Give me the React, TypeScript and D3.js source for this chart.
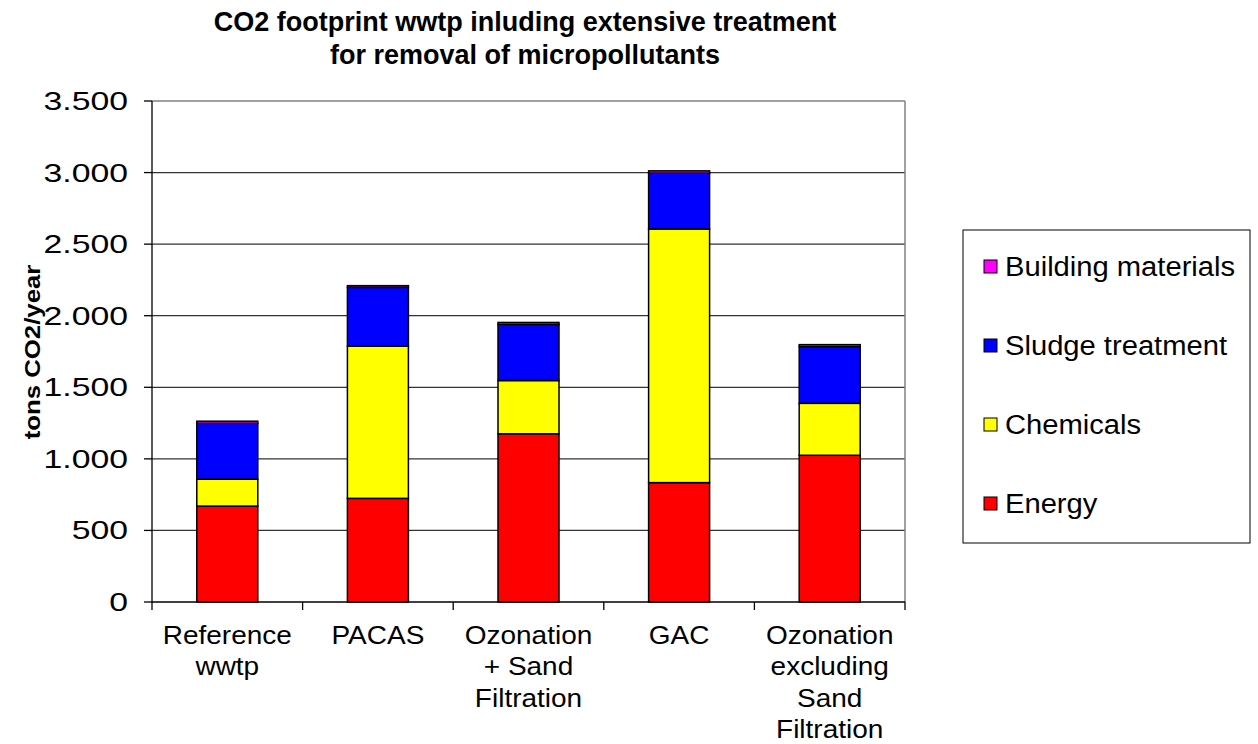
import React from "react";
import * as d3 from "d3";

const categories = [
  ["Reference", "wwtp"],
  ["PACAS"],
  ["Ozonation", "+ Sand", "Filtration"],
  ["GAC"],
  ["Ozonation", "excluding", "Sand", "Filtration"],
];
const categoryKeys = ["Reference wwtp", "PACAS", "Ozonation + Sand Filtration", "GAC", "Ozonation excluding Sand Filtration"];
const energy = [670, 724, 1175, 834, 1025];
const chemicals = [188, 1064, 372, 1772, 363];
const sludge = [390, 410, 392, 390, 396];
const building = [15, 12, 14, 16, 14];
const seriesNames = ["Energy", "Chemicals", "Sludge treatment", "Building materials"];
const seriesColors = ["#FF0000", "#FFFF00", "#0000FF", "#FF00FF"];
const yTicks = [0, 500, 1000, 1500, 2000, 2500, 3000, 3500];
const titleLines = ["CO2 footprint wwtp inluding extensive treatment", "for removal of micropollutants"];
const yTitle = "tons CO2/year";

const W = 1258, H = 744;
const L = 152, R = 905, T = 101, B = 602;

export default function App() {
  const x = d3.scaleBand().domain(categoryKeys).range([L, R]).paddingInner(0.595).paddingOuter(0.2975);
  const y = d3.scaleLinear().domain([0, 3500]).range([B, T]);
  const rows = categoryKeys.map((k, i) => ({ key: k, Energy: energy[i], Chemicals: chemicals[i], "Sludge treatment": sludge[i], "Building materials": building[i] }));
  const stacked = d3.stack<any>().keys(seriesNames)(rows);
  const step = x.step();
  const fmt = (v: number) => d3.format(",")(v).replace(/,/g, ".");
  const font = "'Liberation Sans', Arial, sans-serif";

  return (
    <svg width={W} height={H} style={{ position: "absolute", left: 0, top: 0, background: "#fff" }} fontFamily={font}>
      <rect x={0} y={0} width={W} height={H} fill="#fff" />
      {titleLines.map((t, i) => (
        <text key={i} x={525} y={31 + i * 33} textAnchor="middle" fontSize={27} fontWeight="bold"
          fontFamily="'Liberation Sans Narrow', 'Arial Narrow', 'Liberation Sans', sans-serif">{t}</text>
      ))}
      {yTicks.filter(v => v > 0).map(v => (
        <line key={v} x1={L} x2={R} y1={y(v)} y2={y(v)} stroke={v === 3500 ? "#808080" : "#333"} strokeWidth={v === 3500 ? 1.5 : 1.3} />
      ))}
      <line x1={R} x2={R} y1={T} y2={B} stroke="#808080" strokeWidth={1.5} />
      {stacked.map((s, si) => (
        <g key={si}>
          {s.map((d, i) => (
            <rect key={i} x={x(categoryKeys[i])} width={x.bandwidth()} y={y(d[1])} height={y(d[0]) - y(d[1])}
              fill={seriesColors[si]} stroke="#000" strokeWidth={1.5} />
          ))}
        </g>
      ))}
      <line x1={L} x2={L} y1={T} y2={B} stroke="#000" strokeWidth={1.3} />
      {yTicks.map(v => (
        <g key={v}>
          <line x1={L - 8} x2={L} y1={y(v)} y2={y(v)} stroke="#000" strokeWidth={1.3} />
          <text transform={`translate(128,${y(v) + 9}) scale(1.35,1)`} textAnchor="end" fontSize={25} fill="#000">{fmt(v)}</text>
        </g>
      ))}
      <line x1={L} x2={R} y1={B} y2={B} stroke="#000" strokeWidth={1.3} />
      {d3.range(categoryKeys.length + 1).map(k => (
        <line key={k} x1={L + k * step} x2={L + k * step} y1={B} y2={B + 8} stroke="#000" strokeWidth={1.3} />
      ))}
      {categories.map((lines, i) => {
        const cx = x(categoryKeys[i])! + x.bandwidth() / 2;
        return lines.map((ln, j) => (
          <text key={i + "-" + j} transform={`translate(${cx},${644 + j * 31.3}) scale(1.12,1)`} textAnchor="middle" fontSize={25} fill="#000">{ln}</text>
        ));
      })}
      <text transform={`translate(40,352) rotate(-90) scale(1.12,1)`} textAnchor="middle" fontSize={23} fontWeight="bold">{yTitle}</text>
      <rect x={963} y={230} width={287} height={313} fill="#fff" stroke="#000" strokeWidth={1} />
      {seriesNames.slice().reverse().map((n, i) => {
        const si = seriesNames.length - 1 - i;
        const cy = 266 + i * 79;
        return (
          <g key={n}>
            <rect x={984} y={cy - 6} width={13} height={13} fill={seriesColors[si]} stroke="#000" strokeWidth={1} />
            <text transform={`translate(1005,${cy + 10}) scale(1.08,1)`} fontSize={27} fill="#000">{n}</text>
          </g>
        );
      })}
    </svg>
  );
}
